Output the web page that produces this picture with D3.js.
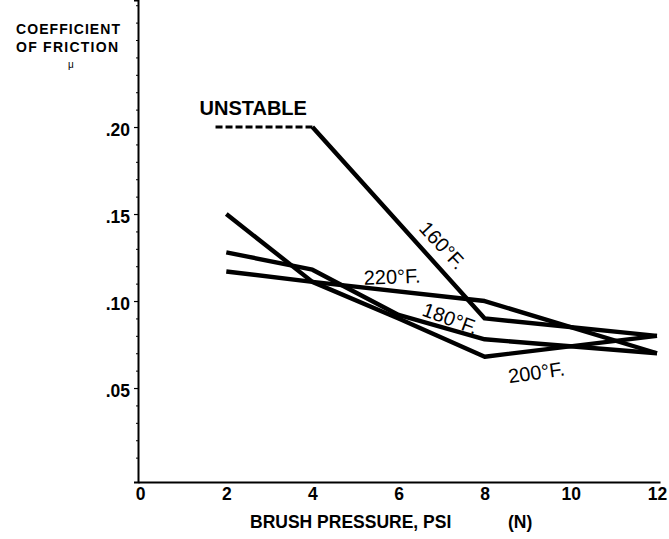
<!DOCTYPE html>
<html>
<head>
<meta charset="utf-8">
<script src="https://cdn.jsdelivr.net/npm/d3@7"></script>
<style>
  html, body { margin: 0; padding: 0; background: #fff; }
  svg { display: block; }
  text { font-family: "Liberation Sans", Arial, Helvetica, sans-serif; fill: #000; }
</style>
</head>
<body>
<svg id="chart" width="669" height="539"></svg>
<script>
// Brush pressure (PSI) vs. coefficient of friction for four temperatures
const pressureTicks = [0, 2, 4, 6, 8, 10, 12];
const frictionTicks = [0.05, 0.10, 0.15, 0.20];
const frictionMinor = [0.01,0.02,0.03,0.04,0.06,0.07,0.08,0.09,0.11,0.12,0.13,0.14,0.16,0.17,0.18,0.19,0.21,0.22,0.23,0.24,0.25,0.26,0.27];

// each series: [pressure, mu]
const unstable160 = [[1.75, 0.200], [4, 0.200]];
const series160   = [[4, 0.200], [8, 0.090], [12, 0.080]];
const series180   = [[2, 0.128], [4, 0.118], [6, 0.092], [8, 0.078], [12, 0.070]];
const series200   = [[2, 0.150], [4, 0.111], [6, 0.090], [8, 0.068], [12, 0.080]];
const series220   = [[2, 0.117], [4, 0.111], [8, 0.100], [12, 0.070]];

const svg = d3.select("#chart");

const x = d3.scaleLinear().domain([-0.05, 12.07]).range([138, 660]);
const y = d3.scaleLinear().domain([-0.004, 0.273]).range([482, 0]);

// axes
const yMinor = d3.axisLeft(y).tickValues(frictionMinor).tickSize(2).tickFormat("");
svg.append("g").attr("transform", `translate(${x(-0.05)},0)`).call(yMinor)
  .call(g => g.select(".domain").remove())
  .call(g => g.selectAll("line").attr("stroke", "#000").attr("stroke-width", 1));

const yAxis = d3.axisLeft(y).tickValues(frictionTicks).tickSize(4).tickPadding(4)
  .tickFormat(d => d3.format(".2f")(d).replace(/^0/, ""));
svg.append("g").attr("transform", `translate(${x(-0.05)},0)`).call(yAxis)
  .call(g => g.select(".domain").attr("stroke", "#000").attr("stroke-width", 2))
  .call(g => g.selectAll("line").attr("stroke", "#000").attr("stroke-width", 1.2))
  .call(g => g.selectAll("text").attr("font-size", 17.5).attr("font-weight", "bold")
    .attr("font-family", "'Liberation Sans', Arial, sans-serif").attr("dy", "0.5em"));

const xAxis = d3.axisBottom(x).tickValues(pressureTicks).tickSize(0).tickPadding(6)
  .tickFormat(d3.format("d"));
svg.append("g").attr("transform", `translate(0,${y(-0.004)})`).call(xAxis)
  .call(g => g.select(".domain").attr("stroke", "#000").attr("stroke-width", 2))
  .call(g => g.selectAll("text").attr("font-size", 17.5).attr("font-weight", "bold")
    .attr("font-family", "'Liberation Sans', Arial, sans-serif"));

// axis titles
svg.append("text").attr("x", 16).attr("y", 34).attr("font-size", 14).attr("font-weight", "bold")
  .attr("textLength", 104).text("COEFFICIENT");
svg.append("text").attr("x", 16).attr("y", 52).attr("font-size", 14).attr("font-weight", "bold")
  .attr("textLength", 102).text("OF FRICTION");
svg.append("text").attr("x", 71).attr("y", 68).attr("font-size", 10).attr("text-anchor", "middle").text("μ");

svg.append("text").attr("x", 250).attr("y", 528).attr("font-size", 17.5).attr("font-weight", "bold")
  .text("BRUSH PRESSURE, PSI");
svg.append("text").attr("x", 508).attr("y", 528).attr("font-size", 17.5).attr("font-weight", "bold")
  .text("(N)");

// curves
const line = d3.line().x(d => x(d[0])).y(d => y(d[1]));
const curves = svg.append("g").attr("fill", "none").attr("stroke", "#000")
  .attr("stroke-linejoin", "round").attr("stroke-linecap", "butt");

[series220, series180, series200, series160].forEach(s => {
  curves.append("path").datum(s).attr("d", line).attr("stroke-width", 4.4);
});
curves.append("path").datum(unstable160).attr("d", line)
  .attr("stroke-width", 3).attr("stroke-dasharray", "7,3");

// curve labels
svg.append("text").attr("x", x(1.75) - 16).attr("y", y(0.200) - 12)
  .attr("font-size", 20).attr("font-weight", "bold").text("UNSTABLE");

function curveLabel(txt, px, py, angle) {
  svg.append("text")
    .attr("transform", `translate(${px},${py}) rotate(${angle})`)
    .attr("text-anchor", "middle").attr("dy", "0.35em")
    .attr("font-size", 20).text(txt);
}
curveLabel("160°F.", x(7.02), y(0.132), 47);
curveLabel("220°F.", x(5.85), y(0.114), -2);
curveLabel("180°F.", x(7.2), y(0.090), 20);
curveLabel("200°F.", x(9.2), y(0.059), -8);
</script>
</body>
</html>
